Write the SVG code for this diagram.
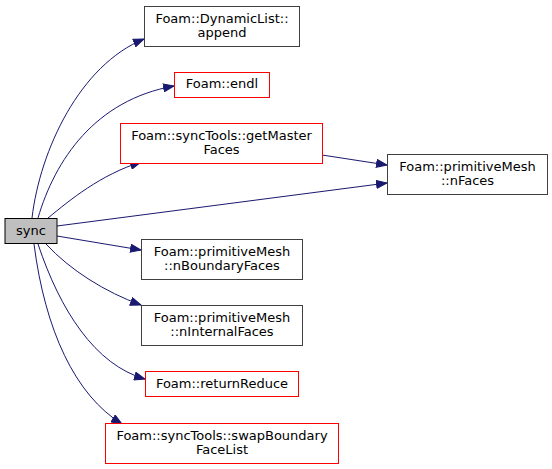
<svg xmlns="http://www.w3.org/2000/svg" width="552" height="469" viewBox="0 0 552 469">
<style>
.n rect{fill:#fff;stroke:#404040;stroke-width:1}
.n.r rect{stroke:#ff0000}
.n.cur rect{fill:#bfbfbf;stroke:#000}
text{font-family:"DejaVu Sans",sans-serif;font-size:13px;fill:#000;text-anchor:middle}
.e path{fill:none;stroke:#191970;stroke-width:1}
</style>
<defs>
<marker id="a" markerUnits="userSpaceOnUse" markerWidth="12" markerHeight="9" refX="11" refY="4.5" orient="auto">
<path d="M0.5,0.5 L11,4.5 L0.5,8.5 z" fill="#191970" stroke="#191970" stroke-width="1"/>
</marker>
</defs>
<rect width="552" height="469" fill="#fff"/>
<g id="edges" class="e">
<path marker-end="url(#a)" d="M32,218 C40,150 80,65 144,39"/>
<path marker-end="url(#a)" d="M38,218 C55,160 95,100 174,86"/>
<path marker-end="url(#a)" d="M48,218 C70,200 100,175 141,162"/>
<path marker-end="url(#a)" d="M322,155 L387,165"/>
<path marker-end="url(#a)" d="M57,226 L387,183"/>
<path marker-end="url(#a)" d="M57,236 L141,250"/>
<path marker-end="url(#a)" d="M46,244 C70,270 105,292 141,305"/>
<path marker-end="url(#a)" d="M38,244 C60,310 95,365 145,379"/>
<path marker-end="url(#a)" d="M34,244 C45,330 75,395 122,424"/>
</g>
<g id="sync" class="n cur"><rect x="5" y="218.5" width="52" height="25"/><text x="31" y="235">sync</text></g>
<g id="append" class="n"><rect x="144.5" y="6.5" width="155" height="40"/><text x="222" y="23">Foam::DynamicList::</text><text x="222" y="37">append</text></g>
<g id="endl" class="n r"><rect x="174.5" y="72.5" width="95" height="25"/><text x="222" y="88">Foam::endl</text></g>
<g id="getMasterFaces" class="n r"><rect x="120.5" y="123.5" width="202" height="40"/><text x="221.5" y="140">Foam::syncTools::getMaster</text><text x="221.5" y="154">Faces</text></g>
<g id="nFaces" class="n"><rect x="387.5" y="154.5" width="160" height="40"/><text x="467.5" y="171">Foam::primitiveMesh</text><text x="467.5" y="185">::nFaces</text></g>
<g id="nBoundaryFaces" class="n"><rect x="141.5" y="239.5" width="161" height="40"/><text x="222" y="256">Foam::primitiveMesh</text><text x="222" y="270">::nBoundaryFaces</text></g>
<g id="nInternalFaces" class="n"><rect x="141.5" y="305.5" width="161" height="40"/><text x="222" y="322">Foam::primitiveMesh</text><text x="222" y="336">::nInternalFaces</text></g>
<g id="returnReduce" class="n r"><rect x="145.5" y="371.5" width="153" height="25"/><text x="222" y="388">Foam::returnReduce</text></g>
<g id="swapBoundaryFaceList" class="n r"><rect x="105.5" y="423.5" width="233" height="40"/><text x="222" y="440">Foam::syncTools::swapBoundary</text><text x="222" y="454">FaceList</text></g>
</svg>
